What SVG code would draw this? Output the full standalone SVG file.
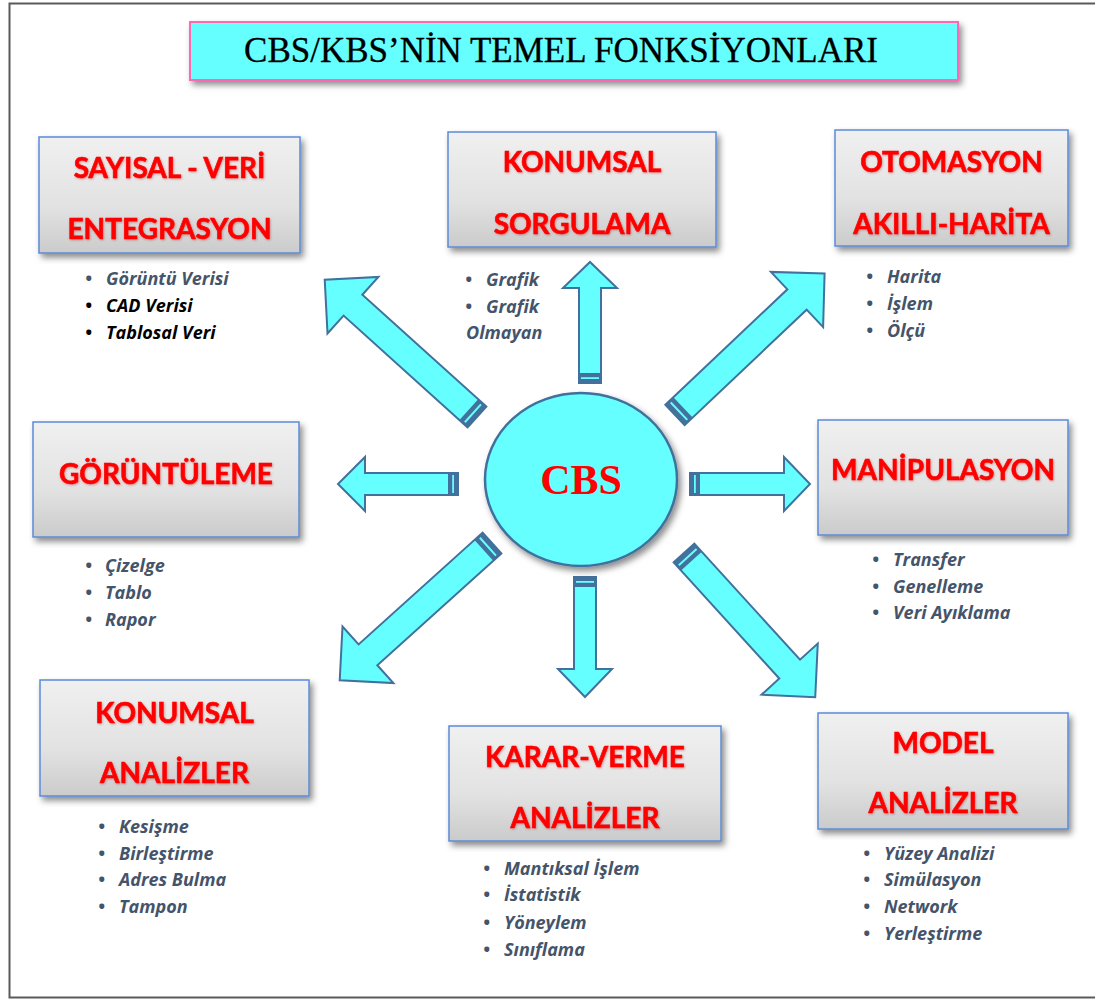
<svg xmlns="http://www.w3.org/2000/svg" xmlns:xlink="http://www.w3.org/1999/xlink" width="1095" height="1001" viewBox="0 0 1095 1001">
  <style>
    .frame { fill: none; stroke: #5a5a5a; stroke-width: 2; }
    .title-box { fill: #66ffff; stroke: #ff66b3; stroke-width: 2; }
    .title { font-family: "Liberation Serif", "Times New Roman", serif; font-size: 35px; fill: #000; stroke: #000; stroke-width: 0.3; }
    .box { fill: url(#boxGrad); stroke: #5b8bd6; stroke-width: 1.5; }
    .label { font-family: Lato, "Open Sans", "Liberation Sans", sans-serif; font-weight: 700; font-size: 28px; fill: #ff0000; stroke: #ff0000; stroke-width: 0.6; text-anchor: middle; }
    .item { font-family: "Open Sans", Lato, "Liberation Sans", sans-serif; font-weight: 700; font-style: italic; font-size: 18px; fill: #44546a; }
    .item.dark { fill: #000; }
    .arrow { fill: #66ffff; stroke: #41719c; stroke-width: 2; stroke-linejoin: miter; }
    .band { fill: #41719c; }
    .band-line { fill: #66ffff; }
    .hub { fill: #66ffff; stroke: #41719c; stroke-width: 2.5; }
    .hub-text { font-family: "Liberation Serif", "Times New Roman", serif; font-weight: 700; font-size: 42px; fill: #ff0000; text-anchor: middle; }
  </style>
  <defs>
    <linearGradient id="boxGrad" x1="0" y1="0" x2="0" y2="1">
      <stop offset="0" stop-color="#f0f0f0"/>
      <stop offset="0.6" stop-color="#e2e2e2"/>
      <stop offset="1" stop-color="#cbcbcb"/>
    </linearGradient>
    <filter id="shadow" x="-10%" y="-10%" width="125%" height="135%">
      <feDropShadow dx="3" dy="4" stdDeviation="3" flood-color="#000" flood-opacity="0.45"/>
    </filter>
    <filter id="glow" x="-5%" y="-20%" width="110%" height="140%">
      <feDropShadow dx="0.8" dy="1" stdDeviation="1" flood-color="#990000" flood-opacity="0.35"/>
    </filter>
  </defs>

  <!-- page frame -->
  <path class="frame" d="M1095,3.5 H9.5 V997.5 H1095"/>

  <!-- heading -->
  <g id="title">
    <rect class="title-box" x="190" y="22" width="768" height="58" filter="url(#shadow)"/>
    <text class="title" x="561" y="62" text-anchor="middle">CBS/KBS’NİN TEMEL FONKSİYONLARI</text>
  </g>

  <!-- connectors: block arrows radiating from the hub -->
  <g id="connectors">
    <!-- up -->
    <g transform="translate(590,383) rotate(-90)">
      <path class="arrow" d="M0,-11 H95 V-27 L121,0 L95,27 V11 H0 Z"/>
      <rect class="band" x="0" y="-11" width="10" height="22"/>
      <rect class="band-line" x="4" y="-9" width="1.8" height="18"/>
    </g>
    <!-- down -->
    <g transform="translate(585,577) rotate(90)">
      <path class="arrow" d="M0,-11 H92 V-27 L120,0 L92,27 V11 H0 Z"/>
      <rect class="band" x="0" y="-11" width="10" height="22"/>
      <rect class="band-line" x="4" y="-9" width="1.8" height="18"/>
    </g>
    <!-- left -->
    <g transform="translate(458,484) rotate(180)">
      <path class="arrow" d="M0,-11 H93 V-27 L120,0 L93,27 V11 H0 Z"/>
      <rect class="band" x="0" y="-11" width="10" height="22"/>
      <rect class="band-line" x="4" y="-9" width="1.8" height="18"/>
    </g>
    <!-- right -->
    <g transform="translate(690,484)">
      <path class="arrow" d="M0,-11 H94 V-27 L120,0 L94,27 V11 H0 Z"/>
      <rect class="band" x="0" y="-11" width="10" height="22"/>
      <rect class="band-line" x="4" y="-9" width="1.8" height="18"/>
    </g>
    <!-- up-left -->
    <g transform="translate(477,417) rotate(-137.97)">
      <path class="arrow" d="M0,-14 H167 V-38 L205,0 L167,38 V14 H0 Z"/>
      <rect class="band" x="0" y="-14" width="11" height="28"/>
      <rect class="band-line" x="4.5" y="-12" width="2" height="24"/>
    </g>
    <!-- up-right -->
    <g transform="translate(675,415) rotate(-43.43)">
      <path class="arrow" d="M0,-14 H168 V-38 L206,0 L168,38 V14 H0 Z"/>
      <rect class="band" x="0" y="-14" width="11" height="28"/>
      <rect class="band-line" x="4.5" y="-12" width="2" height="24"/>
    </g>
    <!-- down-left -->
    <g transform="translate(492,543) rotate(137.97)">
      <path class="arrow" d="M0,-14 H167 V-38 L205,0 L167,38 V14 H0 Z"/>
      <rect class="band" x="0" y="-14" width="11" height="28"/>
      <rect class="band-line" x="4.5" y="-12" width="2" height="24"/>
    </g>
    <!-- down-right -->
    <g transform="translate(684,553) rotate(47.7)">
      <path class="arrow" d="M0,-14 H157 V-38 L195,0 L157,38 V14 H0 Z"/>
      <rect class="band" x="0" y="-14" width="11" height="28"/>
      <rect class="band-line" x="4.5" y="-12" width="2" height="24"/>
    </g>
  </g>

  <!-- central hub -->
  <g id="hub">
    <ellipse class="hub" cx="581" cy="479.5" rx="96" ry="86.5" filter="url(#shadow)"/>
    <text class="hub-text" x="581" y="494">CBS</text>
  </g>

  <!-- function boxes -->
  <g id="node-veri-entegrasyon">
    <rect class="box" x="39" y="137" width="261" height="116" filter="url(#shadow)"/>
    <text class="label" x="169.5" y="178" filter="url(#glow)">SAYISAL - VERİ</text>
    <text class="label" x="169.5" y="239" filter="url(#glow)">ENTEGRASYON</text>
    <text class="item" x="85" y="285">•</text><text class="item" x="106" y="285">Görüntü Verisi</text>
    <text class="item dark" x="85" y="312">•</text><text class="item dark" x="106" y="312">CAD Verisi</text>
    <text class="item dark" x="85" y="339">•</text><text class="item dark" x="106" y="339">Tablosal Veri</text>
  </g>

  <g id="node-konumsal-sorgulama">
    <rect class="box" x="448" y="132" width="268" height="115" filter="url(#shadow)"/>
    <text class="label" x="582" y="172" filter="url(#glow)">KONUMSAL</text>
    <text class="label" x="582" y="234" filter="url(#glow)">SORGULAMA</text>
    <text class="item" x="465" y="286">•</text><text class="item" x="486" y="286">Grafik</text>
    <text class="item" x="465" y="313">•</text><text class="item" x="486" y="313">Grafik</text>
    <text class="item" x="466" y="339">Olmayan</text>
  </g>

  <g id="node-otomasyon">
    <rect class="box" x="835" y="130" width="233" height="116" filter="url(#shadow)"/>
    <text class="label" x="951.5" y="172" filter="url(#glow)">OTOMASYON</text>
    <text class="label" x="951.5" y="234" filter="url(#glow)">AKILLI-HARİTA</text>
    <text class="item" x="866" y="283">•</text><text class="item" x="887" y="283">Harita</text>
    <text class="item" x="866" y="310">•</text><text class="item" x="887" y="310">İşlem</text>
    <text class="item" x="866" y="337">•</text><text class="item" x="887" y="337">Ölçü</text>
  </g>

  <g id="node-goruntuleme">
    <rect class="box" x="33" y="422" width="266" height="115" filter="url(#shadow)"/>
    <text class="label" x="166" y="484" filter="url(#glow)">GÖRÜNTÜLEME</text>
    <text class="item" x="85" y="572">•</text><text class="item" x="105" y="572">Çizelge</text>
    <text class="item" x="85" y="599">•</text><text class="item" x="105" y="599">Tablo</text>
    <text class="item" x="85" y="626">•</text><text class="item" x="105" y="626">Rapor</text>
  </g>

  <g id="node-manipulasyon">
    <rect class="box" x="818" y="420" width="250" height="115" filter="url(#shadow)"/>
    <text class="label" x="943" y="480" filter="url(#glow)">MANİPULASYON</text>
    <text class="item" x="872" y="566">•</text><text class="item" x="893" y="566">Transfer</text>
    <text class="item" x="872" y="593">•</text><text class="item" x="893" y="593">Genelleme</text>
    <text class="item" x="872" y="619">•</text><text class="item" x="893" y="619">Veri Ayıklama</text>
  </g>

  <g id="node-konumsal-analizler">
    <rect class="box" x="40" y="680" width="269" height="116" filter="url(#shadow)"/>
    <text class="label" x="174.5" y="723" filter="url(#glow)">KONUMSAL</text>
    <text class="label" x="174.5" y="783" filter="url(#glow)">ANALİZLER</text>
    <text class="item" x="98" y="833">•</text><text class="item" x="119" y="833">Kesişme</text>
    <text class="item" x="98" y="860">•</text><text class="item" x="119" y="860">Birleştirme</text>
    <text class="item" x="98" y="886">•</text><text class="item" x="119" y="886">Adres Bulma</text>
    <text class="item" x="98" y="913">•</text><text class="item" x="119" y="913">Tampon</text>
  </g>

  <g id="node-karar-verme">
    <rect class="box" x="449" y="726" width="272" height="115" filter="url(#shadow)"/>
    <text class="label" x="585" y="767" filter="url(#glow)">KARAR-VERME</text>
    <text class="label" x="585" y="828" filter="url(#glow)">ANALİZLER</text>
    <text class="item" x="483" y="875">•</text><text class="item" x="504" y="875">Mantıksal İşlem</text>
    <text class="item" x="483" y="901">•</text><text class="item" x="504" y="901">İstatistik</text>
    <text class="item" x="483" y="929">•</text><text class="item" x="504" y="929">Yöneylem</text>
    <text class="item" x="483" y="956">•</text><text class="item" x="504" y="956">Sınıflama</text>
  </g>

  <g id="node-model">
    <rect class="box" x="818" y="713" width="250" height="116" filter="url(#shadow)"/>
    <text class="label" x="943" y="753" filter="url(#glow)">MODEL</text>
    <text class="label" x="943" y="813" filter="url(#glow)">ANALİZLER</text>
    <text class="item" x="863" y="860">•</text><text class="item" x="884" y="860">Yüzey Analizi</text>
    <text class="item" x="863" y="886">•</text><text class="item" x="884" y="886">Simülasyon</text>
    <text class="item" x="863" y="913">•</text><text class="item" x="884" y="913">Network</text>
    <text class="item" x="863" y="940">•</text><text class="item" x="884" y="940">Yerleştirme</text>
  </g>
</svg>
